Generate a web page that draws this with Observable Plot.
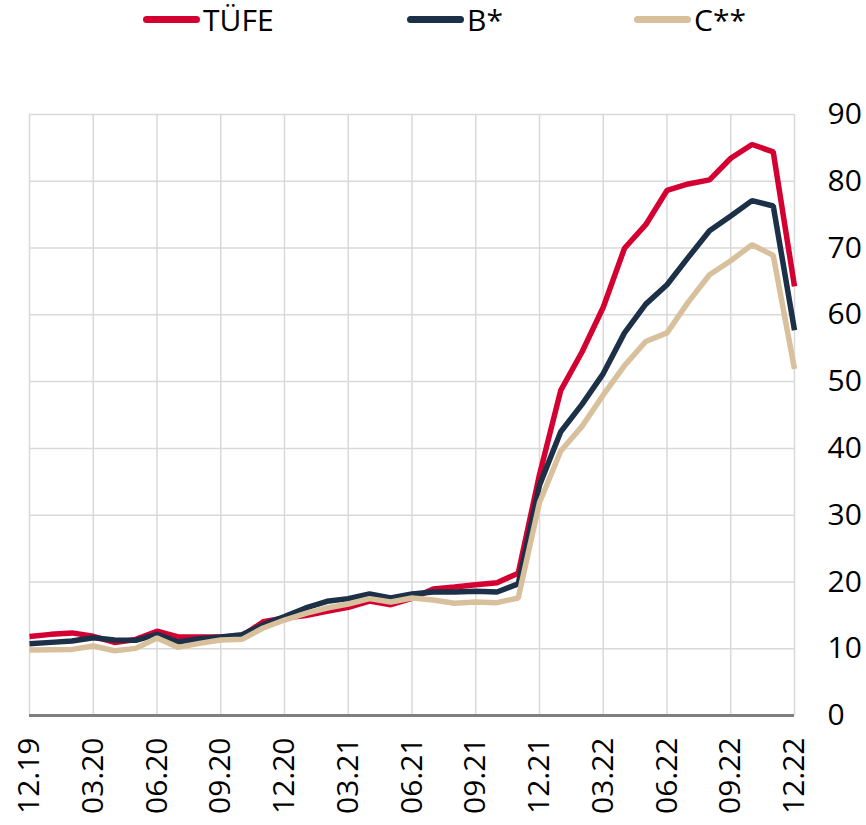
<!DOCTYPE html>
<html>
<head>
<meta charset="utf-8">
<script src="https://cdn.jsdelivr.net/npm/d3@7"></script>
<script src="https://cdn.jsdelivr.net/npm/@observablehq/plot@0.6"></script>
<style>
  html, body { margin: 0; padding: 0; background: #fff; }
  body { width: 866px; height: 825px; overflow: hidden; font-family: "Open Sans", sans-serif; }
  #legend { position: relative; height: 40px; width: 866px; }
  .item { position: absolute; top: 0; height: 38px; display: flex; align-items: center; font-size: 30px; color: #000; }
  .sw { width: 57px; height: 7px; border-radius: 3.5px; margin-right: 3px; }
</style>
</head>
<body>
<div id="legend"></div>
<div id="chart"></div>
<script>
const months = ["12.19","01.20","02.20","03.20","04.20","05.20","06.20","07.20","08.20","09.20","10.20","11.20",
  "12.20","01.21","02.21","03.21","04.21","05.21","06.21","07.21","08.21","09.21","10.21","11.21",
  "12.21","01.22","02.22","03.22","04.22","05.22","06.22","07.22","08.22","09.22","10.22","11.22","12.22"];
const tufe = [11.84,12.15,12.37,11.86,10.94,11.39,12.62,11.76,11.77,11.75,11.89,14.03,
  14.60,14.97,15.61,16.19,17.14,16.59,17.53,18.95,19.25,19.58,19.89,21.31,
  36.08,48.69,54.44,61.14,69.97,73.50,78.62,79.60,80.21,83.45,85.51,84.39,64.27];
const bStar = [10.75,10.95,11.15,11.65,11.3,11.25,12.15,11.0,11.5,11.75,12.1,13.6,
  14.8,16.1,17.1,17.5,18.2,17.6,18.2,18.5,18.5,18.6,18.5,19.7,
  34.5,42.5,46.6,51.2,57.3,61.6,64.5,68.6,72.6,74.8,77.1,76.3,57.7];
const cStar = [9.8,9.85,9.9,10.4,9.7,10.05,11.6,10.2,10.8,11.3,11.4,13.1,
  14.3,15.3,16.1,16.7,17.5,17.0,17.6,17.3,16.8,17.0,16.9,17.6,
  31.9,39.6,43.3,48.0,52.4,56.0,57.3,61.9,66.0,68.1,70.5,68.9,51.9];
const seriesNames = ["TÜFE","B*","C**"];
const seriesColors = ["#d50032","#1c3148","#d8c09c"];
const tickLabels = ["12.19","03.20","06.20","09.20","12.20","03.21","06.21","09.21","12.21","03.22","06.22","09.22","12.22"];
const yTicks = [0,10,20,30,40,50,60,70,80,90];

const legendPos = [143, 407, 634];
const legend = document.getElementById("legend");
seriesNames.forEach((n, i) => {
  const it = document.createElement("div");
  it.className = "item";
  it.style.left = legendPos[i] + "px";
  const sw = document.createElement("div");
  sw.className = "sw";
  sw.style.background = seriesColors[i];
  const t = document.createElement("span");
  t.textContent = n;
  it.appendChild(sw); it.appendChild(t);
  legend.appendChild(it);
});

const allSeries = [tufe, bStar, cStar];
const data = [];
allSeries.forEach((vals, s) => vals.forEach((v, i) => data.push({series: seriesNames[s], i, m: months[i], v})));
const tickIdx = tickLabels.map(l => months.indexOf(l));

const chart = Plot.plot({
  width: 866,
  height: 785,
  marginLeft: 29,
  marginRight: 72,
  marginTop: 74,
  marginBottom: 110,
  style: {fontFamily: "Open Sans", fontSize: "30px", color: "#000", background: "#fff", overflow: "visible"},
  x: {domain: [0, months.length - 1]},
  y: {domain: [0, 90]},
  color: {domain: seriesNames, range: seriesColors},
  marks: [
    Plot.gridY(yTicks, {stroke: "#d9d9d9", strokeOpacity: 1, strokeWidth: 1.5}),
    Plot.gridX(tickIdx, {stroke: "#d9d9d9", strokeOpacity: 1, strokeWidth: 1.5}),
    Plot.axisY(yTicks, {anchor: "right", tickSize: 0, tickPadding: 33, label: null, fontSize: 30}),
    Plot.axisX(tickIdx, {anchor: "bottom", tickSize: 0, tickPadding: 22, tickRotate: -90, label: null, fontSize: 30,
      tickFormat: i => months[i]}),
    Plot.ruleY([0], {stroke: "#7f7f7f", strokeWidth: 3}),
    Plot.line(data, {x: "i", y: "v", z: "series", stroke: "series", strokeWidth: 5.5, strokeLinejoin: "miter", strokeLinecap: "butt"})
  ]
});
document.getElementById("chart").appendChild(chart);
</script>
</body>
</html>
